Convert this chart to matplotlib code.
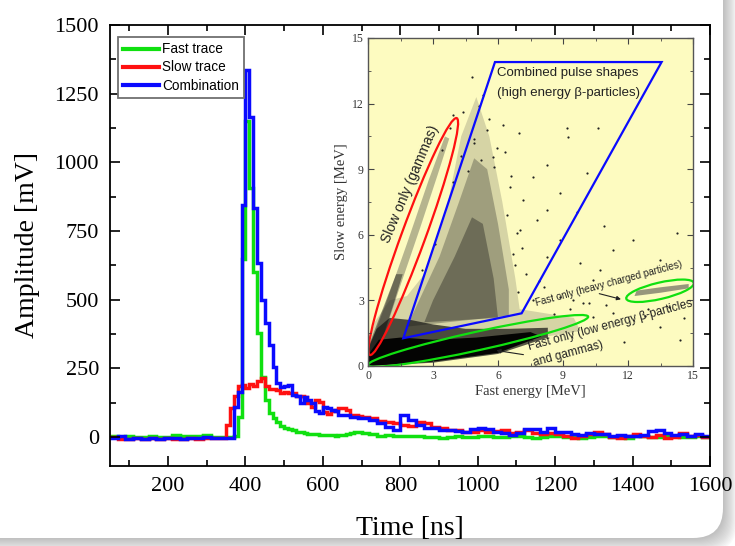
"""Pulse traces (fast / slow / combined) with an inset of slow vs fast energy."""

import matplotlib

matplotlib.use("Agg")
import matplotlib.pyplot as plt
from matplotlib.patches import Ellipse, FancyBboxPatch, Polygon
from matplotlib.ticker import MultipleLocator

# ---------------------------------------------------------------- trace data
# bin edges in ns: 20 ns on the baseline, 10 ns around the pulse, 20 ns in the tail
EDGES = list(range(50, 350, 20)) + list(range(350, 700, 10)) + list(range(700, 1601, 20))

FAST_MV = [
    # baseline 50-350
    3, 0, 5, 2, 0, 3, 0, 2, 8, 3, 5, 3, 7, 2, 0,
    # pulse 350-700
    2, 0, 5, 75, 650, 1150, 905, 600, 380, 218,
    135, 87, 70, 55, 42, 35, 30, 25, 20, 18,
    15, 12, 12, 10, 8, 8, 7, 7, 5, 7,
    8, 10, 15, 18, 18,
    # tail 700-1600
    15, 10, 5, 7, 5, 3, 5, 3, 0, 2,
    -2, 0, 3, 0, 2, 5, 3, 0, 2, 5,
    3, 0, -2, 2, 5, 3, 0, 2, -2, 0,
    3, 5, 2, 0, -2, 3, 5, 2, 0, 3,
    5, 2, 0, 3, 2,
]
SLOW_MV = [
    0, -5, -8, -3, -5, -2, -6, -2, -5, -7, -3, -5, -2, -2, -3,
    45, 105, 150, 185, 190, 180, 195, 185, 205, 215,
    185, 175, 175, 170, 160, 165, 160, 160, 150, 150,
    145, 125, 110, 135, 127, 90, 85, 95, 100, 105,
    105, 100, 82, 80, 78,
    75, 69, 58, 55, 52, 44, 42, 55, 52, 36,
    33, 25, 25, 20, 18, 25, 18, 22, 25, 15,
    20, 25, 15, 12, 15, 10, 3, -3, 5, 12,
    18, 10, 0, -2, 5, 12, 5, 0, 8, -3,
    2, 15, 5, 8, 2,
]
COMBINED_MV = [
    -2, 3, -5, -3, -5, -2, -8, -4, -2, -5, -3, -3, 0, -3, -2,
    -3, -3, 110, 165, 845, 1336, 1166, 835, 633, 499,
    415, 335, 255, 196, 182, 185, 190, 153, 150, 124,
    146, 135, 124, 95, 87, 109, 105, 98, 95, 80,
    80, 80, 73, 73, 70,
    70, 62, 51, 36, 25, 80, 62, 44, 33, 33,
    25, 25, 22, 18, 29, 35, 29, 18, 15, 7,
    15, 29, 29, 18, 35, 20, 18, 10, 8, 15,
    10, 12, 5, 8, 3, 5, 8, 22, 25, 15,
    8, 12, 3, 10, 5,
]
TRACE_LABELS = ["Fast trace", "Slow trace", "Combination"]

# ---------------------------------------------------------------- inset data (MeV)
# dense regions of the scatter, outlined from the picture
HAZE_E = [0, 9.8, 9.5, 7.0, 6.8, 6.2, 5.6, 5.0, 4.3, 3.6, 2.6, 1.8, 1.0, 0.3, 0]
HAZE_S = [0, 1.6, 2.2, 2.6, 4.0, 7.5, 10.5, 12.3, 10.5, 7.0, 4.2, 3.2, 3.0, 2.0, 1.0]
CLOUD_E = [1.8, 6.5, 6.5, 6.0, 5.5, 4.9, 4.2, 3.3, 2.5]
CLOUD_S = [1.8, 2.3, 3.5, 6.5, 9.0, 9.5, 7.5, 5.0, 3.3]
CLOUD_CORE_E = [2.6, 6.0, 5.8, 5.3, 4.8, 4.0, 3.0]
CLOUD_CORE_S = [2.0, 2.2, 4.0, 6.5, 6.8, 5.0, 3.0]
BAND_E = [0, 3, 6, 8.3, 8.3, 6.5, 4.5, 3.0, 2.0, 1.0, 0.4, 0]
BAND_S = [0, 0.15, 0.55, 1.3, 1.75, 1.7, 1.7, 1.9, 2.1, 2.2, 1.7, 0.8]
CORE_E = [0, 3, 6, 8.0, 7.5, 5, 3, 1.5, 0.5, 0]
CORE_S = [0, 0.2, 0.6, 1.35, 1.55, 1.3, 1.2, 1.3, 1.2, 0.5]
STREAK_E = [0, 0.45, 1.4, 2.4, 3.2, 3.75, 3.55, 2.8, 1.8, 0.8, 0.2, 0]
STREAK_S = [0.3, 0.55, 3.4, 6.3, 8.7, 10.4, 10.5, 8.5, 5.6, 2.8, 1.2, 0.8]
STREAK_CORE_E = [0, 0.45, 1.2, 1.6, 1.3, 0.6, 0.1]
STREAK_CORE_S = [0.4, 0.6, 2.9, 4.2, 4.2, 2.4, 1.1]
HEAVY_E = [12.3, 13.5, 14.8, 14.8, 13.5, 12.4]
HEAVY_S = [3.2, 3.35, 3.55, 3.75, 3.6, 3.45]

# sparse single events
DOTS_E = [6.24, 6.98, 9.17, 9.25, 5.94, 5.78, 4.78, 8.25, 10.09, 7.63, 6.55, 8.86,
          7.17, 8.25, 9.63, 8.86, 9.47, 10.4, 10.7, 9.78, 8.25, 8.86, 11.32, 12.24,
          13.47, 14.24, 7.78, 6.86, 10.4, 11.32, 13.47, 14.4, 10.6, 5.3, 4.4, 7.1,
          6.8, 9.9, 11.8, 12.9, 3.1, 2.5, 7.9, 10.9, 4.9, 5.6,
          4.6, 5.2, 5.8, 4.9, 5.5, 4.3, 6.3, 5.1, 6.6, 3.9,
          6.9, 7.3, 6.7, 7.6, 8.1, 7.0, 6.4, 3.8, 3.9, 3.4,
          9.3, 10.2, 11.0, 8.6, 12.8, 13.9, 14.6]
DOTS_S = [11.02, 10.64, 10.87, 10.49, 9.95, 9.57, 13.23, 9.19, 8.81, 8.66, 8.2, 7.9,
          7.59, 7.13, 7.06, 3.17, 3.02, 3.93, 4.39, 4.7, 5.0, 5.76, 5.3, 5.76,
          4.85, 6.07, 6.68, 6.07, 2.25, 2.41, 1.8, 1.19, 10.9, 12.4, 11.6, 5.4,
          4.6, 2.9, 1.1, 2.6, 5.6, 4.4, 3.9, 6.4, 10.2, 11.3,
          8.9, 9.4, 9.1, 10.4, 10.8, 9.6, 9.8, 11.9, 8.7, 8.4,
          3.4, 4.2, 5.1, 3.0, 3.6, 6.2, 6.9, 10.9, 11.5, 9.9,
          2.6, 2.9, 2.8, 2.4, 2.3, 2.7, 2.2]

# gates drawn over the scatter
GAMMA_GATE = dict(center=(2.09, 5.92), length=11.55, width=1.1, angle=69.7)
LOW_GATE = dict(center=(5.08, 1.15), length=10.4, width=0.85, angle=12.3)
HEAVY_GATE = dict(center=(13.48, 3.44), length=3.2, width=0.75, angle=13.0)
COMBINED_E = [1.63, 5.86, 13.55, 7.09]
COMBINED_S = [1.27, 13.9, 13.9, 2.41]

GREEN = "#10e010"
RED = "#ff1010"
BLUE = "#0a0aff"
SANS = "Liberation Sans"

plt.rcParams["font.family"] = "serif"
plt.rcParams["font.serif"] = ["Liberation Serif", "DejaVu Serif"]

fig = plt.figure(figsize=(7.35, 5.46), dpi=100, facecolor="white")

# rounded white panel with a soft shadow, drawn in pixel units
bg = fig.add_axes([0, 0, 1, 1], zorder=-10)
bg.set_xlim(0, 735)
bg.set_ylim(546, 0)
bg.axis("off")
for shift in range(14, 0, -1):
    bg.add_patch(FancyBboxPatch((-40 + shift, -40 + shift), 763, 578,
                                boxstyle="round,pad=0,rounding_size=30",
                                fc="#707070", ec="none", alpha=0.035))
bg.add_patch(FancyBboxPatch((-40, -40), 763, 578,
                            boxstyle="round,pad=0,rounding_size=30",
                            fc="white", ec="none"))

# ---------------------------------------------------------------- main traces
ax = fig.add_axes([110 / 735, 1 - 466 / 546, 600 / 735, 441 / 546])
ax.set_facecolor("white")
for values, color, label in zip([FAST_MV, SLOW_MV, COMBINED_MV], [GREEN, RED, BLUE], TRACE_LABELS):
    ax.stairs(values, EDGES, baseline=None, color=color, lw=2.5, label=label)

ax.set_xlim(50, 1600)
ax.set_ylim(-105, 1500)
ax.xaxis.set_major_locator(MultipleLocator(200))
ax.xaxis.set_minor_locator(MultipleLocator(100))
ax.yaxis.set_major_locator(MultipleLocator(250))
ax.yaxis.set_minor_locator(MultipleLocator(125))
ax.tick_params(which="both", direction="in", top=True, right=True, width=1.2)
ax.tick_params(which="major", length=7, labelsize=16, pad=8)
ax.tick_params(which="minor", length=4)
for spine in ax.spines.values():
    spine.set_linewidth(1.3)
ax.set_xlabel("Time [ns]", fontsize=20, labelpad=14)
ax.set_ylabel("Amplitude [mV]", fontsize=20, labelpad=10)

leg = ax.legend(loc="upper left", bbox_to_anchor=(0.013, 0.973), borderaxespad=0,
                prop={"family": SANS, "size": 9.8}, handlelength=2.6, handletextpad=0.25,
                labelspacing=0.3, borderpad=0.4, fancybox=False, framealpha=1)
leg.get_frame().set_edgecolor("#707070")
leg.get_frame().set_linewidth(1.3)
for line in leg.get_lines():
    line.set_linewidth(3)

# ---------------------------------------------------------------- inset
ins = fig.add_axes([368 / 735, 1 - 366 / 546, 325 / 735, 328 / 546])
ins.set_facecolor("#fdfbc0")
ins.set_xlim(0, 15)
ins.set_ylim(0, 15)
ins.xaxis.set_major_locator(MultipleLocator(3))
ins.xaxis.set_minor_locator(MultipleLocator(1.5))
ins.yaxis.set_major_locator(MultipleLocator(3))
ins.yaxis.set_minor_locator(MultipleLocator(1.5))
ins.tick_params(which="both", direction="in", top=True, right=True, colors="#444444",
                labelcolor="#333333", labelsize=8.5, pad=3)
ins.tick_params(which="major", length=4)
ins.tick_params(which="minor", length=2.5)
for spine in ins.spines.values():
    spine.set_color("#555555")
    spine.set_linewidth(1.0)
ins.set_xlabel("Fast energy [MeV]", fontsize=10.5, color="#333333", labelpad=2)
ins.set_ylabel("Slow energy [MeV]", fontsize=10.5, color="#333333", labelpad=3)

regions = [
    (HAZE_E, HAZE_S, "#3a3a3a", 0.2),
    (CLOUD_E, CLOUD_S, "#222222", 0.3),
    (CLOUD_CORE_E, CLOUD_CORE_S, "#111111", 0.35),
    (STREAK_E, STREAK_S, "#333333", 0.35),
    (STREAK_CORE_E, STREAK_CORE_S, "#111111", 0.45),
    (BAND_E, BAND_S, "#111111", 0.7),
    (CORE_E, CORE_S, "black", 0.95),
    (HEAVY_E, HEAVY_S, "#444444", 0.55),
]
for xs, ys, color, alpha in regions:
    ins.add_patch(Polygon(list(zip(xs, ys)), closed=True, fc=color, ec="none", alpha=alpha))
ins.scatter(DOTS_E, DOTS_S, s=2.5, c="#222222", linewidths=0)

for gate, color in [(GAMMA_GATE, RED), (LOW_GATE, GREEN), (HEAVY_GATE, GREEN)]:
    ins.add_patch(Ellipse(gate["center"], gate["length"], gate["width"], angle=gate["angle"],
                          fill=False, ec=color, lw=1.6))
ins.add_patch(Polygon(list(zip(COMBINED_E, COMBINED_S)), closed=True, fill=False, ec=BLUE, lw=1.6))

text_kw = dict(family=SANS, color="#222222")
ins.text(5.95, 13.4, "Combined pulse shapes", fontsize=9.5, va="center", **text_kw)
ins.text(5.95, 12.48, "(high energy \u03b2-particles)", fontsize=9.5, va="center", **text_kw)
ins.text(1.95, 8.3, "Slow only (gammas)", fontsize=10, rotation=67, ha="center", va="center",
         rotation_mode="anchor", **text_kw)
ins.text(11.12, 3.75, "Fast only (heavy charged particles)", fontsize=7, rotation=15,
         ha="center", va="center", rotation_mode="anchor", **text_kw)
ins.text(11.17, 1.85, "Fast only (low energy \u03b2-particles", fontsize=8.5, rotation=15,
         ha="center", va="center", rotation_mode="anchor", **text_kw)
ins.text(9.24, 0.55, "and gammas)", fontsize=8.5, rotation=15, ha="center", va="center",
         rotation_mode="anchor", **text_kw)
arrow = dict(arrowstyle="-|>", color="#222222", lw=0.8, mutation_scale=6)
ins.annotate("", xy=(11.8, 3.02), xytext=(10.55, 3.34), arrowprops=arrow)
ins.annotate("", xy=(5.8, 0.73), xytext=(7.3, 0.5), arrowprops=arrow)

fig.savefig("out.png", dpi=100, facecolor=fig.get_facecolor())
